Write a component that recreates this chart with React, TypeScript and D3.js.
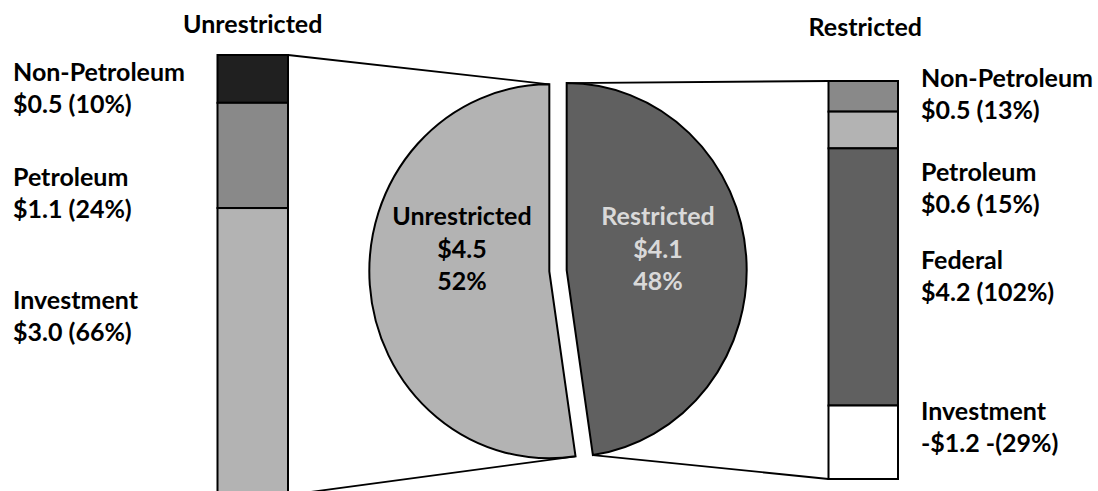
import React from "react";
import * as d3 from "d3";

// Revenue split (billions): pie of the two fund types
const pieCategories = ["Restricted", "Unrestricted"];
const pieValues = [4.1, 4.5];
const piePercents = [48, 52];

// Unrestricted breakdown (top to bottom)
const unrestrictedCategories = ["Non-Petroleum", "Petroleum", "Investment"];
const unrestrictedValues = [0.5, 1.1, 3.0];
const unrestrictedPercents = [10, 24, 66];

// Restricted breakdown (top to bottom)
const restrictedCategories = ["Non-Petroleum", "Petroleum", "Federal", "Investment"];
const restrictedValues = [0.5, 0.6, 4.2, -1.2];
const restrictedPercents = [13, 15, 102, -29];

const W = 1098;
const H = 491;
const FONT = "Lato, 'Open Sans', sans-serif";
const FS = 25;

const fmtMoney = (v: number) => (v < 0 ? "-$" : "$") + Math.abs(v).toFixed(1);
const fmtPct = (p: number) => (p < 0 ? "-(" + Math.abs(p) + "%)" : "(" + p + "%)");

export default function App() {
  // pie geometry (slightly elliptical)
  const cx = 558;
  const cy = 270.7;
  const ry = 187;
  const rx = 180;
  const explode = 8.7;

  const pie = d3.pie<number>().sort(null).value((d) => d);
  const arcs = pie(pieValues);
  const arcGen = d3.arc<d3.PieArcDatum<number>>().innerRadius(0).outerRadius(ry);
  const pieFill = ["#606060", "#b3b3b3"];
  const pieText = ["#d9d9d9", "#000000"];

  const slices = arcs.map((a, i) => {
    const mid = (a.startAngle + a.endAngle) / 2;
    const ox = Math.sin(mid) * explode;
    const oy = -Math.cos(mid) * explode;
    const c = { x: cx + ox, y: cy + oy };
    const pt = (ang: number) => ({ x: c.x + rx * Math.sin(ang), y: c.y - ry * Math.cos(ang) });
    return { a, i, ox, oy, c, start: pt(a.startAngle), end: pt(a.endAngle) };
  });
  const restrictedSlice = slices[0];
  const unrestrictedSlice = slices[1];

  // left stacked bar (unrestricted)
  const lx0 = 217.5;
  const lx1 = 288;
  const lTotal = d3.sum(unrestrictedValues.map(Math.abs));
  const ly = d3.scaleLinear().domain([0, lTotal]).range([55, 495]);
  const lCum = d3.cumsum(unrestrictedValues.map(Math.abs));
  const leftFill = ["#202020", "#898989", "#b3b3b3"];

  // right stacked bar (restricted), stacked by magnitude
  const rx0 = 828.5;
  const rx1 = 898;
  const rTotal = d3.sum(restrictedValues.map(Math.abs));
  const ryScale = d3.scaleLinear().domain([0, rTotal]).range([81, 479]);
  const rCum = d3.cumsum(restrictedValues.map(Math.abs));
  const rightFill = ["#898989", "#b3b3b3", "#606060", "#ffffff"];

  const leftLabelY = [81, 186, 309];
  const rightLabelY = [87, 181, 269, 420];
  const lineGap = 32;

  return (
    <svg
      width={W}
      height={H}
      style={{ position: "absolute", left: 0, top: 0, background: "#fff" }}
      fontFamily={FONT}
      fontWeight="bold"
      fontSize={FS}
    >
      {/* connector lines (behind the pie) */}
      <g stroke="#000" strokeWidth={1.8} fill="none">
        <line x1={lx1} y1={ly(0)} x2={unrestrictedSlice.end.x} y2={unrestrictedSlice.end.y} />
        <line x1={lx1} y1={ly(lTotal)} x2={unrestrictedSlice.start.x} y2={unrestrictedSlice.start.y} />
        <line x1={restrictedSlice.start.x} y1={restrictedSlice.start.y} x2={rx0} y2={ryScale(0)} />
        <line x1={restrictedSlice.end.x} y1={restrictedSlice.end.y} x2={rx0} y2={ryScale(rTotal)} />
      </g>

      {/* pie slices */}
      {slices.map((s) => (
        <g key={pieCategories[s.i]} transform={`translate(${s.c.x},${s.c.y}) scale(${rx / ry},1)`}>
          <path
            d={arcGen(s.a) || ""}
            fill={pieFill[s.i]}
            stroke="#000"
            strokeWidth={2}
            strokeLinejoin="miter"
            vectorEffect="non-scaling-stroke"
          />
        </g>
      ))}
      {slices.map((s) => {
        const tx = s.i === 0 ? 658 : 462;
        return (
          <text key={"pl" + s.i} textAnchor="middle" fill={pieText[s.i]}>
            <tspan x={tx} y={225}>{pieCategories[s.i]}</tspan>
            <tspan x={tx} y={258}>{fmtMoney(pieValues[s.i])}</tspan>
            <tspan x={tx} y={290}>{piePercents[s.i] + "%"}</tspan>
          </text>
        );
      })}

      {/* left bar */}
      <g stroke="#000" strokeWidth={2}>
        {unrestrictedValues.map((v, i) => (
          <rect
            key={unrestrictedCategories[i]}
            x={lx0}
            y={ly(lCum[i] - Math.abs(v))}
            width={lx1 - lx0}
            height={ly(lCum[i]) - ly(lCum[i] - Math.abs(v))}
            fill={leftFill[i]}
          />
        ))}
      </g>

      {/* right bar */}
      <g stroke="#000" strokeWidth={2}>
        {restrictedValues.map((v, i) => (
          <rect
            key={restrictedCategories[i]}
            x={rx0}
            y={ryScale(rCum[i] - Math.abs(v))}
            width={rx1 - rx0}
            height={ryScale(rCum[i]) - ryScale(rCum[i] - Math.abs(v))}
            fill={rightFill[i]}
          />
        ))}
      </g>

      {/* titles */}
      <text x={(lx0 + lx1) / 2} y={33} textAnchor="middle">Unrestricted</text>
      <text x={(rx0 + rx1) / 2 + 2} y={36} textAnchor="middle">Restricted</text>

      {/* left labels */}
      {unrestrictedCategories.map((c, i) => (
        <text key={"ll" + i} fill="#000">
          <tspan x={13} y={leftLabelY[i]}>{c}</tspan>
          <tspan x={13} y={leftLabelY[i] + lineGap}>
            {fmtMoney(unrestrictedValues[i]) + " " + fmtPct(unrestrictedPercents[i])}
          </tspan>
        </text>
      ))}

      {/* right labels */}
      {restrictedCategories.map((c, i) => (
        <text key={"rl" + i} fill="#000">
          <tspan x={921} y={rightLabelY[i]}>{c}</tspan>
          <tspan x={921} y={rightLabelY[i] + lineGap}>
            {fmtMoney(restrictedValues[i]) + " " + fmtPct(restrictedPercents[i])}
          </tspan>
        </text>
      ))}
    </svg>
  );
}
